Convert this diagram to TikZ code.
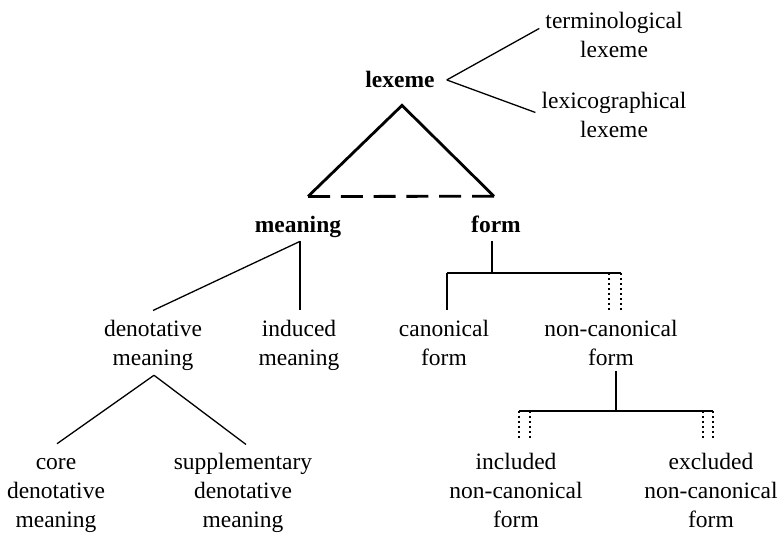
\documentclass[tikz,border=0pt]{standalone}
\usepackage{fontspec}
\setmainfont{Liberation Serif}
\usetikzlibrary{positioning}
\tikzstyle{wordnode} =[align=center, inner sep=0pt, anchor=base, font=\fontsize{23.5}{29}\selectfont]
\tikzstyle{headnode} =[wordnode, font=\fontsize{23.5}{29}\selectfont\bfseries]
\tikzstyle{branch} =[line width=1.3pt]
\tikzstyle{heavy} =[line width=2.8pt]
\tikzstyle{dotline} =[line width=1.6pt, dash pattern=on 1.7pt off 3.3pt]

\begin{document}
\begin{tikzpicture}[x=1pt, y=-1pt]
\useasboundingbox (0,0) rectangle (782,534);
\node (lexeme) [headnode] at (400,88) {lexeme};
\node (termlex) [wordnode] at (614,58) {terminological\\lexeme};
\node (lexilex) [wordnode] at (614,138) {lexicographical\\lexeme};
\node (meaning) [headnode] at (298,233) {meaning};
\node (form) [headnode] at (496,233) {form};
\node (denot) [wordnode] at (153,366) {denotative\\meaning};
\node (induced) [wordnode] at (299,366) {induced\\meaning};
\node (canon) [wordnode] at (444,366) {canonical\\form};
\node (noncanon) [wordnode] at (611,366) {non-canonical\\form};
\node (core) [wordnode] at (56,527) {core\\denotative\\meaning};
\node (suppl) [wordnode] at (243,527) {supplementary\\denotative\\meaning};
\node (incl) [wordnode] at (516,527) {included\\non-canonical\\form};
\node (excl) [wordnode] at (711,527) {excluded\\non-canonical\\form};
% lexeme fork
\coordinate (fork) at ([xshift=12pt]lexeme.east);
\draw [branch] (fork)--([xshift=-6pt,yshift=7pt]termlex.west);
\draw [branch] (fork)--([xshift=-6pt,yshift=3pt]lexilex.west);
% triangle
\coordinate (apex) at ([xshift=2pt,yshift=-17pt]lexeme.south);
\coordinate (tleft) at ([xshift=10pt,yshift=20pt]meaning.north);
\coordinate (tright) at ([xshift=-2pt,yshift=20pt]form.north);
\draw [heavy] (tleft)--(apex)--(tright);
\draw [heavy, dash pattern=on 22pt off 10.8pt] (tleft)--(tright);
% meaning
\coordinate (mtop) at ([xshift=2pt,yshift=-3pt]meaning.south);
\draw [branch] (mtop)--([yshift=10pt]denot.north);
\draw [branch, shorten >=10pt] (mtop)--(mtop |- induced.north);
% form
\coordinate (fbar) at ([xshift=-4pt,yshift=-40pt]form.south);
\coordinate (fleft) at (447,273);
\coordinate (fright) at (621,273);
\coordinate (frightb) at (609,273);
\draw [branch, shorten <=8pt] (fbar |- form.south)--(fbar);
\draw [branch] (fleft)--(fright);
\draw [branch, shorten >=10pt] (fleft)--(fleft |- canon.north);
\draw [dotline, shorten >=10pt] (fright)--(fright |- noncanon.north);
\draw [dotline, shorten >=10pt] (frightb)--(frightb |- noncanon.north);
% non-canonical form
\coordinate (nbar) at (616,411);
\coordinate (nleft) at (519,411);
\coordinate (nleftb) at (530,411);
\coordinate (nright) at (713,411);
\coordinate (nrightb) at (703,411);
\draw [branch, shorten <=5pt] (nbar |- noncanon.south)--(nbar);
\draw [branch] (nleft)--(nright);
\draw [dotline, shorten >=12pt] (nleft)--(nleft |- incl.north);
\draw [dotline, shorten >=12pt] (nleftb)--(nleftb |- incl.north);
\draw [dotline, shorten >=12pt] (nright)--(nright |- excl.north);
\draw [dotline, shorten >=12pt] (nrightb)--(nrightb |- excl.north);
% denotative meaning
\coordinate (dtop) at ([xshift=1pt,yshift=-4pt]denot.south);
\draw [branch] (dtop)--([xshift=1pt,yshift=14pt]core.north);
\draw [branch] (dtop)--([xshift=3pt,yshift=8pt]suppl.north);
\end{tikzpicture}
\end{document}
